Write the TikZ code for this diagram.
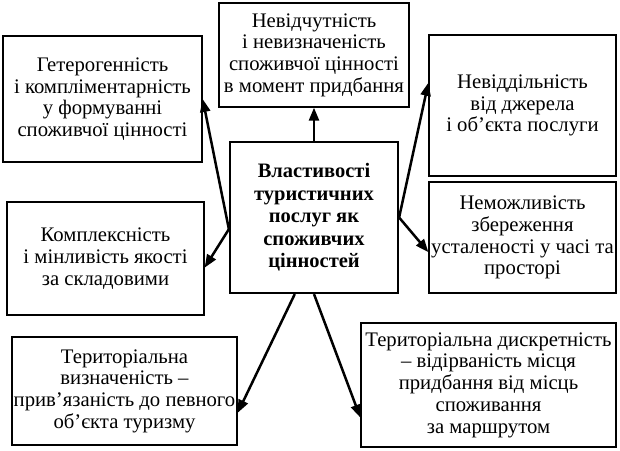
\documentclass[tikz,border=0pt]{standalone}
\usepackage{fontspec}
\setmainfont{Liberation Serif}
\usetikzlibrary{arrows.meta,calc}
\tikzset{
    prop/.style={draw,line width=1.3pt,align=center,inner sep=1pt,
        font=\fontsize{20.7}{21.7}\selectfont},
    hub/.style={prop,line width=2.2pt,font=\fontsize{20.5}{22.5}\selectfont\bfseries},
    link/.style={line width=2.5pt,-{Triangle[length=13pt,width=10pt]}}
}

\begin{document}
\begin{tikzpicture}[x=1pt,y=-1pt]
            \useasboundingbox (0,0) rectangle (620,450);
            \node [hub,minimum width=168pt,minimum height=151pt] (c) at (314,217.5)
                {Властивості\\туристичних\\послуг як\\споживчих\\цінностей};
            \node [prop,minimum width=199pt,minimum height=126pt] (g) at (102.5,99)
                {Гетерогенність\\і комплiментарність\\у формуванні\\споживчої цінності};
            \node [prop,minimum width=190pt,minimum height=104pt] (n) at (314,55)
                {Невідчутність\\і невизначеність\\споживчої цінності\\в момент придбання};
            \node [prop,minimum width=187pt,minimum height=141pt] (v) at (522.5,105.5)
                {Невіддільність\\від джерела\\і об’єкта послуги};
            \node [prop,minimum width=187pt,minimum height=111pt] (m) at (522.5,237.5)
                {Неможливість\\збереження\\усталеності у часі та\\просторі};
            \node [prop,minimum width=197pt,minimum height=113pt] (k) at (105.5,258.5)
                {Комплексність\\і мінливість якості\\за складовими};
            \node [prop,minimum width=225pt,minimum height=108pt] (t) at (124.5,391)
                {Територіальна\\визначеність –\\прив’язаність до певного\\об’єкта туризму};
            \node [prop,minimum width=255pt,minimum height=124pt] (d) at (488.5,385)
                {Територіальна дискретність\\– відірваність місця\\придбання від місць\\споживання\\за маршрутом};
            % arrows out of the hub
            \coordinate (cl) at ($(c.north west)!0.576!(c.south west)$);
            \coordinate (cb) at ($(c.south west)!0.387!(c.south east)$);
            \draw [link] (c.north) -- (n.south);
            \draw [link] (cl) -- (g.east);
            \draw [link] (cl) -- ($(k.north east)!0.58!(k.south east)$);
            \draw [link] (c.east) -- ($(v.north west)!0.34!(v.south west)$);
            \draw [link] (c.east) -- ($(m.north west)!0.63!(m.south west)$);
            \draw [link] (cb) -- ($(t.north east)!0.70!(t.south east)$);
            \draw [link] (c.south) -- ($(d.north west)!0.76!(d.south west)$);
        \end{tikzpicture}
\end{document}
